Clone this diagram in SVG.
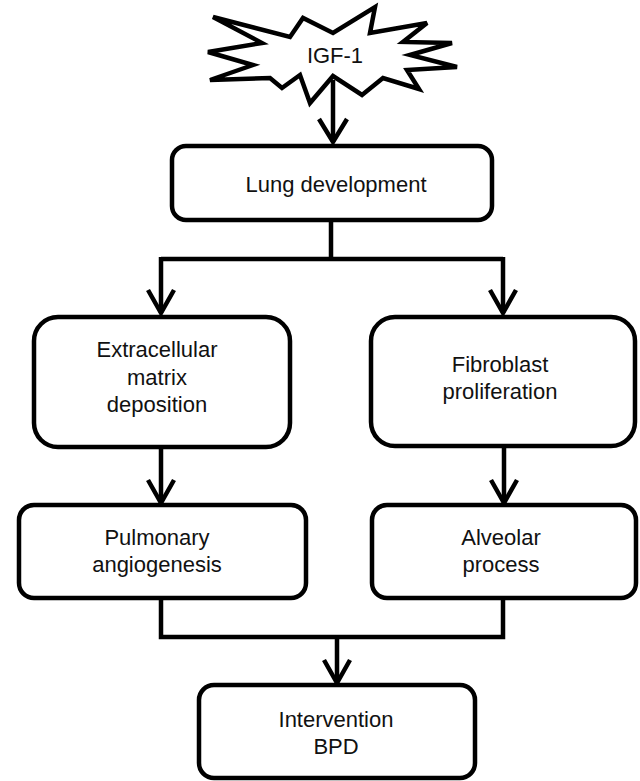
<svg xmlns="http://www.w3.org/2000/svg" width="640" height="781" viewBox="0 0 640 781">
<style>
.box{fill:#fff;stroke:#000;stroke-width:4.5}
.t{font-family:"Liberation Sans",Arial,sans-serif;font-size:22px;fill:#111;text-anchor:middle}
.c{fill:none;stroke:#000;stroke-width:4.5}
.ah{fill:none;stroke:#000;stroke-width:4.5;stroke-linejoin:miter;stroke-linecap:butt}
</style>
<rect width="640" height="781" fill="#fff"/>
<g id="connectors">
<path class="c" d="M333,80 V142"/>
<path class="ah" d="M319,119 L333,142 L347,119"/>
<path class="c" d="M331,220 V259 M161,259 H503 M161,257 V313 M503,257 V313"/>
<path class="ah" d="M148,290 L161,313 L174,290"/>
<path class="ah" d="M490,290 L503,313 L516,290"/>
<path class="c" d="M161,447 V503 M504,446 V503"/>
<path class="ah" d="M148,480 L161,503 L174,480"/>
<path class="ah" d="M491,480 L504,503 L517,480"/>
<path class="c" d="M161,598 V637 H503 V598 M337,637 V683"/>
<path class="ah" d="M324,660 L337,683 L350,660"/>
</g>
<g id="igf1">
<polygon class="box" stroke-linejoin="miter" points="213,17 290,37 303,18 333,33 375,7 370,33 427,23 403,42 452,43 410,55 457,67 407,70 419,89 383,78 362,95 333,76 310,103 300,75 282,88 270,78 210,80 253,65 208,52 262,43"/>
<text class="t" x="335" y="63">IGF-1</text>
</g>
<g id="lung">
<rect class="box" x="172" y="146" width="320" height="74" rx="14"/>
<text class="t" x="336" y="192">Lung development</text>
</g>
<g id="ecm">
<rect class="box" x="34" y="317" width="256" height="130" rx="24"/>
<text class="t" x="157" y="357">Extracellular</text>
<text class="t" x="157" y="385">matrix</text>
<text class="t" x="157" y="412">deposition</text>
</g>
<g id="fibro">
<rect class="box" x="371" y="317" width="264" height="129" rx="24"/>
<text class="t" x="500" y="372">Fibroblast</text>
<text class="t" x="500" y="399">proliferation</text>
</g>
<g id="pulm">
<rect class="box" x="19" y="505" width="287" height="93" rx="15"/>
<text class="t" x="157" y="545">Pulmonary</text>
<text class="t" x="157" y="572">angiogenesis</text>
</g>
<g id="alv">
<rect class="box" x="372" y="505" width="264" height="93" rx="15"/>
<text class="t" x="501" y="545">Alveolar</text>
<text class="t" x="501" y="572">process</text>
</g>
<g id="interv">
<rect class="box" x="199" y="685" width="276" height="93" rx="15"/>
<text class="t" x="336" y="727">Intervention</text>
<text class="t" x="336" y="754">BPD</text>
</g>
</svg>
